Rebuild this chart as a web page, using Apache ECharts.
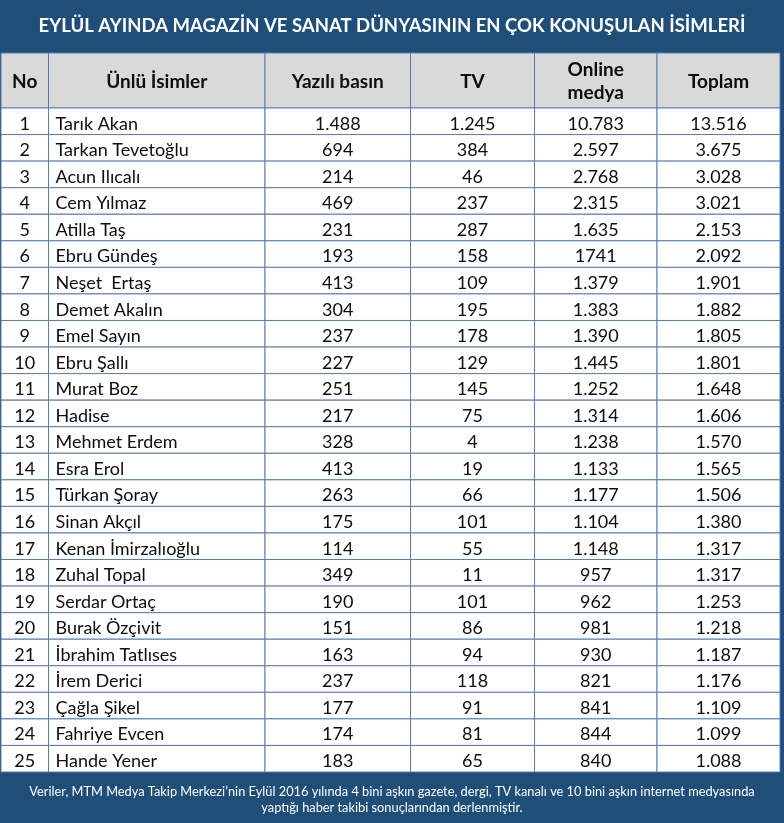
<!DOCTYPE html>
<html><head><meta charset="utf-8">
<script src="https://cdn.jsdelivr.net/npm/echarts@6/dist/echarts.min.js"></script>
<style>html,body{margin:0;padding:0;background:#1F4E79}#c{width:784px;height:823px}</style>
</head><body><div id="c"></div>
<script>
// ---------- DATA ----------
const titleText = 'EYLÜL AYINDA MAGAZİN VE SANAT DÜNYASININ EN ÇOK KONUŞULAN İSİMLERİ';
const footnote = 'Veriler, MTM Medya Takip Merkezi’nin Eylül 2016 yılında 4 bini aşkın gazete, dergi, TV kanalı ve 10 bini aşkın internet medyasında\nyaptığı haber takibi sonuçlarından derlenmiştir.';
const headers = ['No', 'Ünlü İsimler', 'Yazılı basın', 'TV', 'Online\nmedya', 'Toplam'];
const ranks = [1,2,3,4,5,6,7,8,9,10,11,12,13,14,15,16,17,18,19,20,21,22,23,24,25];
const names = ['Tarık Akan','Tarkan Tevetoğlu','Acun Ilıcalı','Cem Yılmaz','Atilla Taş','Ebru Gündeş','Neşet  Ertaş','Demet Akalın','Emel Sayın','Ebru Şallı','Murat Boz','Hadise','Mehmet Erdem','Esra Erol','Türkan Şoray','Sinan Akçıl','Kenan İmirzalıoğlu','Zuhal Topal','Serdar Ortaç','Burak Özçivit','İbrahim Tatlıses','İrem Derici','Çağla Şikel','Fahriye Evcen','Hande Yener'];
const printPress = [1488,694,214,469,231,193,413,304,237,227,251,217,328,413,263,175,114,349,190,151,163,237,177,174,183];
const tv = [1245,384,46,237,287,158,109,195,178,129,145,75,4,19,66,101,55,11,101,86,94,118,91,81,65];
const onlineMedia = [10783,2597,2768,2315,1635,1741,1379,1383,1390,1445,1252,1314,1238,1133,1177,1104,1148,957,962,981,930,821,841,844,840];
const total = [13516,3675,3028,3021,2153,2092,1901,1882,1805,1801,1648,1606,1570,1565,1506,1380,1317,1317,1253,1218,1187,1176,1109,1099,1088];
// cells printed without a thousands separator in the source: [column, row]
const printedWithoutSeparator = [[4, 5]];

// ---------- LAYOUT / STYLE ----------
const colEdges = [1, 48.5, 265, 410.5, 534.5, 657, 780];
const FONT = 'Lato, "Open Sans", sans-serif';
const LINE = '#5A7DB0';
const DARK = '#1F4E79';

function fmt(v, c, r) {
  if (printedWithoutSeparator.some(p => p[0] === c && p[1] === r)) return String(v);
  return String(v).replace(/\B(?=(\d{3})+(?!\d))/g, '.');
}
const columns = [ranks, names, printPress, tv, onlineMedia, total];
function cellText(c, r) {
  const v = columns[c][r];
  return c === 1 || c === 0 ? String(v) : fmt(v, c, r);
}

const bodyData = [];
for (let r = 0; r < names.length; r++)
  for (let c = 0; c < columns.length; c++) bodyData.push([c, r]);
const headData = headers.map((h, c) => [c, 0]);

function makeRender(isHeader) {
  return function (params, api) {
    const c = api.value(0), r = api.value(1);
    const p0 = api.coord([colEdges[c], r]);
    const p1 = api.coord([colEdges[c + 1], r]);
    const h = api.size([0, 1])[1];
    const x = p0[0], y = p0[1] - h / 2, w = p1[0] - p0[0];
    const txt = isHeader ? headers[c] : cellText(c, r);
    const leftAlign = !isHeader && c === 1;
    return {
      type: 'group',
      children: [
        { type: 'rect', shape: { x: x, y: y, width: w, height: h },
          style: { fill: isHeader ? '#D9D9D9' : '#FFFFFF', stroke: LINE, lineWidth: 1 } },
        { type: 'text',
          style: { text: txt, x: leftAlign ? x + 7 : x + w / 2, y: p0[1] + (isHeader ? 1 : 2.5),
                   align: leftAlign ? 'left' : 'center', verticalAlign: 'middle',
                   fill: '#0d0d0d', font: (isHeader ? 'bold 19px ' : '18px ') + FONT,
                   lineHeight: 23 } }
      ]
    };
  };
}

const chart = echarts.init(document.getElementById('c'), null, { renderer: 'canvas' });
chart.setOption({
  backgroundColor: DARK,
  animation: false,
  title: [
    { text: titleText, left: 'center', top: 12,
      textStyle: { color: '#fff', fontSize: 18.5, fontWeight: 'bold', fontFamily: FONT } },
    { text: footnote, left: 'center', top: 779,
      textStyle: { color: '#fff', fontSize: 12.8, fontWeight: 'normal', fontFamily: FONT, lineHeight: 16 } }
  ],
  grid: [
    { left: 0, top: 53, width: 780, height: 55 },
    { left: 0, top: 108, width: 780, height: 664 }
  ],
  xAxis: [
    { gridIndex: 0, type: 'value', min: 0, max: 780, show: false },
    { gridIndex: 1, type: 'value', min: 0, max: 780, show: false }
  ],
  yAxis: [
    { gridIndex: 0, type: 'category', data: ['header'], show: false },
    { gridIndex: 1, type: 'category', data: ranks.map(String), inverse: true, show: false }
  ],
  series: [
    { type: 'custom', xAxisIndex: 0, yAxisIndex: 0, renderItem: makeRender(true), data: headData, silent: true },
    { type: 'custom', xAxisIndex: 1, yAxisIndex: 1, renderItem: makeRender(false), data: bodyData, silent: true }
  ]
});
</script></body></html>
